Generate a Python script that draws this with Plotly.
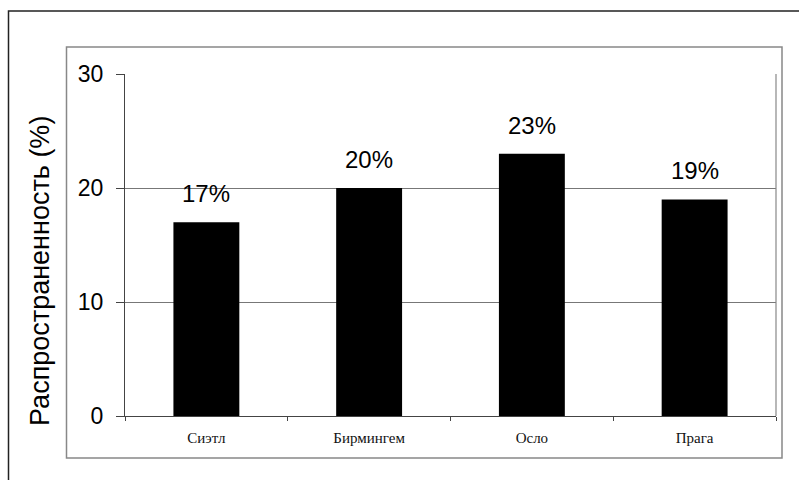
import plotly.graph_objects as go

categories = ["Сиэтл", "Бирмингем", "Осло", "Прага"]
values = [17, 20, 23, 19]
value_labels = ["17%", "20%", "23%", "19%"]
y_ticks = [0, 10, 20, 30]
y_title = "Распространенность (%)"

W, H = 799, 480
L, R, T, B = 125, 776, 74, 416
pw, ph = R - L, B - T

def px_x(p):
    return (p - L) / pw

def px_y(p):
    return (B - p) / ph

fig = go.Figure()
fig.add_trace(go.Bar(
    x=categories, y=values,
    marker=dict(color="black", line=dict(width=0)),
    hoverinfo="skip",
))

annotations = []
for c, v, t in zip(categories, values, value_labels):
    annotations.append(dict(
        x=c, y=v, xref="x", yref="y", text=t, showarrow=False,
        yanchor="bottom", yshift=13,
        font=dict(family="Liberation Sans, Arial", size=24, color="#000"),
    ))
annotations.append(dict(
    x=0, y=px_y(271), xref="paper", yref="paper", text=y_title,
    showarrow=False, textangle=-90, xanchor="center", yanchor="middle",
    xshift=-85,
    font=dict(family="Liberation Sans, Arial", size=27, color="#000"),
))

shapes = [
    dict(type="rect", xref="paper", yref="paper",
         x0=px_x(8.5), x1=px_x(810), y0=px_y(11), y1=px_y(495),
         line=dict(color="#222", width=1.5), layer="below"),
    dict(type="rect", xref="paper", yref="paper",
         x0=px_x(66.5), x1=px_x(782), y0=px_y(458), y1=px_y(47),
         line=dict(color="#888", width=1.5), layer="below"),
    dict(type="line", xref="paper", yref="paper",
         x0=1, x1=1, y0=0, y1=1, line=dict(color="#888", width=1.2)),
]

fig.update_layout(
    width=W, height=H, autosize=False,
    margin=dict(l=L, r=W - R, t=T, b=H - B, pad=0),
    paper_bgcolor="white", plot_bgcolor="white",
    showlegend=False,
    bargap=0.595,
    annotations=annotations,
    shapes=shapes,
    xaxis=dict(
        type="category", tickson="boundaries", ticks="outside", ticklen=4,
        tickcolor="#444", tickwidth=1,
        showline=True, linecolor="#444", linewidth=1.2,
        showgrid=False, ticklabelstandoff=8,
        tickfont=dict(family="Liberation Serif, Times New Roman", size=15, color="#111"),
        fixedrange=True,
    ),
    yaxis=dict(
        range=[0, 30], tickvals=y_ticks, ticks="outside", ticklen=8,
        tickcolor="#444", tickwidth=1,
        showline=True, linecolor="#444", linewidth=1.2,
        showgrid=True, gridcolor="#777", gridwidth=1,
        zeroline=False, ticklabelstandoff=8,
        tickfont=dict(family="Liberation Sans, Arial", size=23, color="#000"),
        fixedrange=True,
    ),
)

fig.write_html("out.html")
